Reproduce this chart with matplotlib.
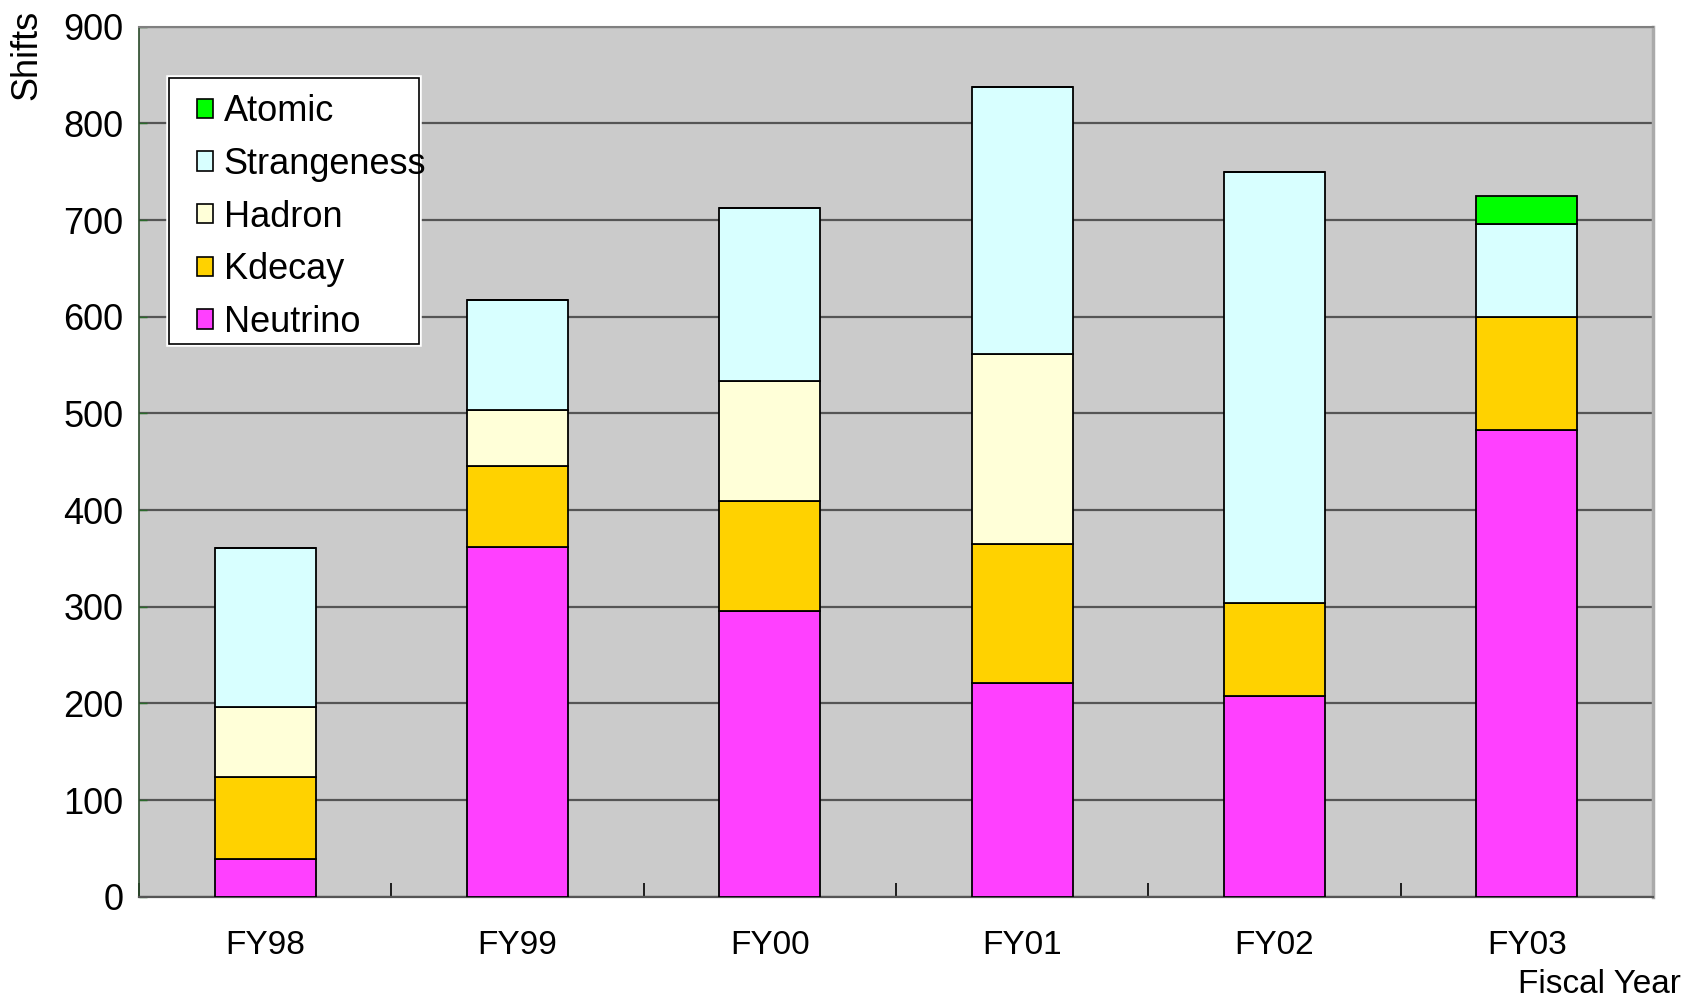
import numpy as np
import matplotlib.pyplot as plt
from matplotlib.patches import Patch, Rectangle

plt.rcParams['font.family'] = ['Liberation Sans', 'DejaVu Sans']

years = ['FY98', 'FY99', 'FY00', 'FY01', 'FY02', 'FY03']
neutrino = [39, 362, 296, 221, 208, 483]
kdecay = [85, 84, 113, 144, 96, 117]
hadron = [72, 58, 125, 197, 0, 0]
strangeness = [165, 113, 179, 276, 446, 96]
atomic = [0, 0, 0, 0, 0, 29]

names = ['Neutrino', 'Kdecay', 'Hadron', 'Strangeness', 'Atomic']
colors = ['#ff40ff', '#ffd200', '#ffffd8', '#d8ffff', '#00ff00']
series = [neutrino, kdecay, hadron, strangeness, atomic]

fig = plt.figure(figsize=(16.88, 10.01), dpi=100)
ax = fig.add_axes([0.0823, 0.1042, 0.897, 0.869])
ax.set_facecolor('#cbcbcb')

x = np.arange(len(years))
bottom = np.zeros(len(years))
for name, vals, col in zip(names, series, colors):
    vals = np.array(vals, dtype=float)
    ax.bar(x, vals, 0.4, bottom=bottom, color=col, edgecolor='black',
           linewidth=1.3, label=name, zorder=3)
    bottom += vals

ax.set_xlim(-0.5, 5.5)
ax.set_ylim(0, 900)
ax.set_yticks(range(0, 901, 100))
ax.yaxis.grid(True, color='#555555', linewidth=1.6)
ax.set_axisbelow(True)

ax.set_xticks(x, years)
ax.set_xticks(np.arange(-0.5, 6, 1), minor=True)
ax.tick_params(axis='x', which='major', length=0, pad=24, labelsize=24)
ax.tick_params(axis='x', which='minor', direction='in', length=10, width=1.2, color='black')
ax.tick_params(axis='y', direction='in', length=6, width=1, color='#2a6a2a', pad=11, labelsize=26)

ax.spines['left'].set_color('#2a4a2a')
ax.spines['left'].set_linewidth(1.2)
ax.spines['bottom'].set_color('#555555')
ax.spines['bottom'].set_linewidth(1.6)
ax.spines['top'].set_color('#808080')
ax.spines['top'].set_linewidth(1.5)
ax.spines['right'].set_color('#aaaaaa')
ax.spines['right'].set_linewidth(2.5)

fig.text(0.016, 0.990, 'Shifts', rotation=90, ha='center', va='top', fontsize=26)
fig.text(0.996, 0.016, 'Fiscal Year', ha='right', va='center', fontsize=24)

# legend box is drawn separately so the longest label can run past its edge
ax.add_patch(Rectangle((0.0198, 0.635), 0.165, 0.306, transform=ax.transAxes,
                       facecolor='white', edgecolor='white', linewidth=4, zorder=4))
ax.add_patch(Rectangle((0.0198, 0.635), 0.165, 0.306, transform=ax.transAxes,
                       facecolor='white', edgecolor='black', linewidth=1.2, zorder=4))

handles = [Patch(facecolor=c, edgecolor='black', linewidth=1.2, label=n)
           for n, c in zip(names, colors)][::-1]
leg = ax.legend(handles=handles, loc='upper left', bbox_to_anchor=(0.0251, 0.9453),
                borderaxespad=0, fontsize=26, frameon=False,
                handlelength=0.45, handleheight=0.45,
                handletextpad=0.3, labelspacing=0.49, borderpad=0.55)
leg.set_zorder(5)

fig.savefig('out.png', dpi=100)
